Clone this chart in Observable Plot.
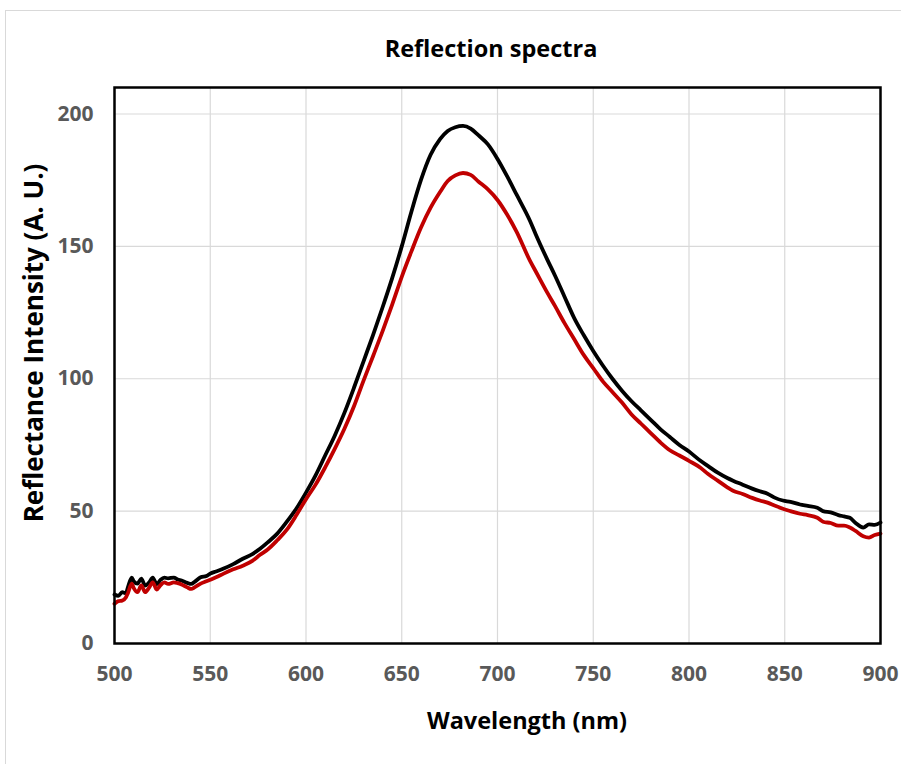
<!DOCTYPE html>
<html><head><meta charset="utf-8">
<script src="https://cdn.jsdelivr.net/npm/d3@7"></script>
<script src="https://cdn.jsdelivr.net/npm/@observablehq/plot@0.6"></script>
<style>
body{margin:0;background:#fff;}
#wrap{position:relative;width:901px;height:764px;font-family:"Open Sans",sans-serif;overflow:hidden;}
#border{position:absolute;left:5px;top:10px;width:900px;height:770px;border:1px solid #d9d9d9;box-sizing:border-box;}
#chart{position:absolute;left:0;top:0;}
.lbl{position:absolute;font-weight:700;color:#000;line-height:1;white-space:nowrap;}
#title{top:37px;left:0;width:982px;text-align:center;font-size:23.5px;}
#xlab{top:709px;left:0;width:1054px;text-align:center;font-size:23.5px;}
#ylab{left:33px;top:343px;font-size:26px;transform:translate(-50%,-50%) rotate(-90deg);}
</style></head>
<body>
<div id="wrap">
  <div id="border"></div>
  <div id="chart"></div>
  <div class="lbl" id="title">Reflection spectra</div>
  <div class="lbl" id="xlab">Wavelength (nm)</div>
  <div class="lbl" id="ylab">Reflectance Intensity (A. U.)</div>
</div>
<script>
const wavelength = [500,502,504,506,507,509,510,512,514,516,518,520,522,524,526,528,531,533,535,538,540,542,545,548,550,553,557,562,567,572,576,580,585,590,595,600,605,610,615,620,625,630,635,640,645,650,655,660,665,670,674,678,682,686,690,695,700,705,710,717,720,726,730,735,740,745,750,755,760,765,770,775,780,785,790,795,800,806,810,815,820,823,828,833,837,841,845,849,853,858,862,867,870,874,878,881,884,887,891,894,897,900];
const blackSeries = [18.5,18.0,19.4,19.0,21.2,24.9,23.5,22.6,24.5,21.9,23.0,24.9,22.3,24.0,24.9,24.6,24.9,24.2,23.8,22.9,22.5,23.4,25.0,25.5,26.4,27.2,28.3,30.0,32.0,33.8,35.8,38.2,41.5,46.0,51.0,57.0,63.5,71.0,78.5,87.0,96.5,106.5,116.5,127.0,138.0,150.0,163.0,175.0,184.5,190.5,193.6,195.0,195.5,194.5,192.0,188.5,183.0,176.5,169.5,159.6,154.5,145.0,139.0,131.0,123.0,116.5,110.5,105.0,100.0,95.5,91.5,88.0,84.5,81.0,78.0,75.0,72.5,69.0,67.0,64.5,62.5,61.5,60.0,58.5,57.5,56.6,55.0,54.0,53.5,52.5,52.0,51.3,50.0,49.5,48.5,48.0,47.5,45.5,43.8,45.0,44.8,45.7];
const redSeries = [15.0,16.0,16.2,17.5,19.0,22.6,21.0,19.4,21.9,19.4,21.0,23.1,20.4,22.0,23.1,22.5,23.1,22.8,22.3,21.2,20.6,21.3,22.6,23.5,24.1,25.0,26.4,28.0,29.4,31.2,33.5,35.5,39.0,43.0,48.5,54.5,60.0,66.5,73.5,81.0,89.5,99.2,108.5,118.0,128.0,138.5,148.0,157.0,164.5,170.5,174.7,176.8,177.7,177.0,174.5,171.5,167.5,162.0,155.5,144.5,140.5,132.5,127.5,121.0,115.0,109.0,104.0,99.0,95.0,91.0,86.5,83.0,79.5,76.0,73.0,71.0,69.0,66.4,64.0,61.5,59.0,57.7,56.5,55.0,54.0,53.2,52.0,50.9,50.0,49.0,48.5,47.5,46.0,45.5,44.5,44.5,43.8,42.5,40.5,40.0,41.0,41.5];
const xTicks = [500,550,600,650,700,750,800,850,900];
const yTicks = [0,50,100,150,200];

const n = Math.min(wavelength.length, blackSeries.length, redSeries.length);
const blackData = d3.range(n).map(i => ({wl: wavelength[i], v: blackSeries[i]}));
const redData = d3.range(n).map(i => ({wl: wavelength[i], v: redSeries[i]}));

const chart = Plot.plot({
  width: 901,
  height: 764,
  marginLeft: 114,
  marginRight: 21,
  marginTop: 87,
  marginBottom: 121,
  style: {fontFamily: "'Open Sans', sans-serif", background: "transparent"},
  x: {domain: [500, 900]},
  y: {domain: [0, 210]},
  marks: [
    Plot.gridX(xTicks, {stroke: "#d9d9d9", strokeOpacity: 1, strokeWidth: 1.2}),
    Plot.gridY(yTicks, {stroke: "#d9d9d9", strokeOpacity: 1, strokeWidth: 1.2}),
    Plot.axisX(xTicks, {tickSize: 0, tickPadding: 23, fontSize: 21, fontWeight: "bold", color: "#595959", label: null}),
    Plot.axisY(yTicks, {tickSize: 0, tickPadding: 21, fontSize: 21, fontWeight: "bold", color: "#595959", label: null}),
    Plot.line(blackData, {x: "wl", y: "v", stroke: "#000000", strokeWidth: 3.8, curve: "monotone-x"}),
    Plot.line(redData, {x: "wl", y: "v", stroke: "#c00000", strokeWidth: 3.8, curve: "monotone-x"}),
    Plot.frame({stroke: "#000", strokeWidth: 2.5})
  ]
});
document.getElementById("chart").appendChild(chart);
</script>
</body></html>
